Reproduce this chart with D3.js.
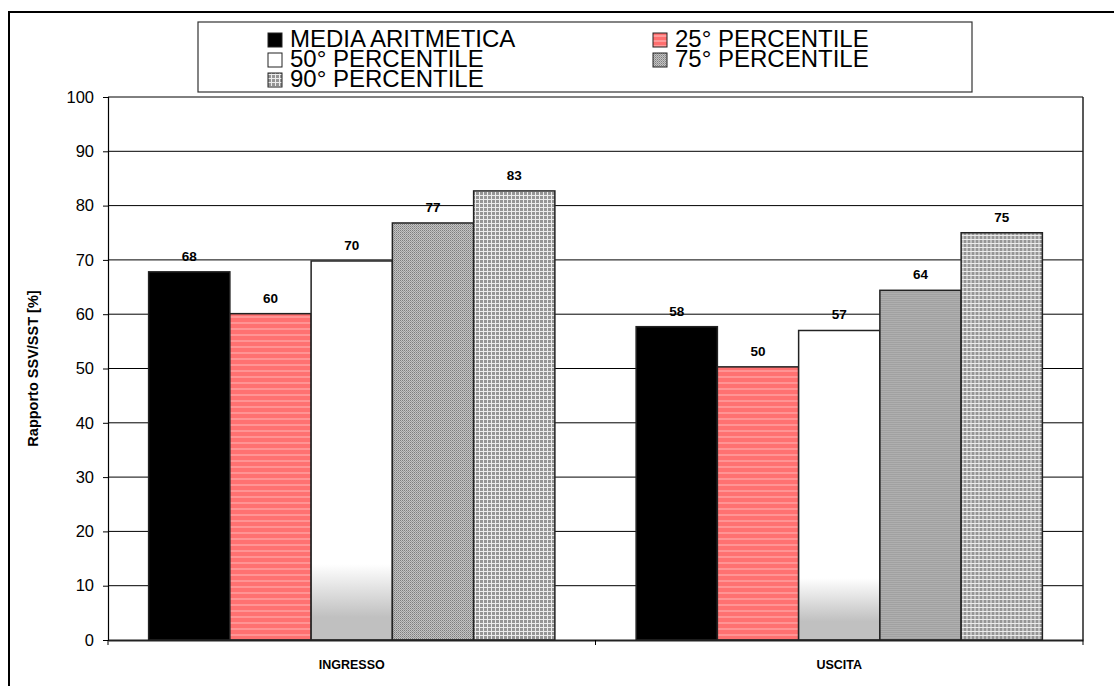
<!DOCTYPE html>
<html>
<head>
<meta charset="utf-8">
<script src="https://cdn.jsdelivr.net/npm/d3@7"></script>
<style>
  html, body { margin: 0; padding: 0; background: #fff; }
  svg { display: block; font-family: "Liberation Sans", Arial, sans-serif; }
</style>
</head>
<body>
<svg id="chart" width="1114" height="686"></svg>
<script>
// ---- data ----
const categories = ["INGRESSO", "USCITA"];
const seriesNames = ["MEDIA ARITMETICA", "25° PERCENTILE", "50° PERCENTILE", "75° PERCENTILE", "90° PERCENTILE"];
const ingressoValues = [67.8, 60.1, 69.8, 76.8, 82.7];
const uscitaValues = [57.7, 50.3, 57.0, 64.4, 75.0];
const yTicks = [0, 10, 20, 30, 40, 50, 60, 70, 80, 90, 100];
const yTitle = "Rapporto SSV/SST [%]";

(function () {
const valuesByCategory = { "INGRESSO": ingressoValues, "USCITA": uscitaValues };
const fills = ["#000000", "url(#pRed)", "url(#gWhite)", "url(#pCheck)", "url(#pGrid)"];
const legendFills = ["#000000", "url(#pRedL)", "#ffffff", "url(#pCheck)", "url(#pGrid)"];

const svg = d3.select("#chart");
const defs = svg.append("defs");

// patterns
const pr = defs.append("pattern").attr("id", "pRed").attr("patternUnits", "userSpaceOnUse")
  .attr("width", 6).attr("height", 6);
pr.append("rect").attr("width", 6).attr("height", 6).attr("fill", "#ff7171");
pr.append("rect").attr("y", 4).attr("width", 6).attr("height", 2).attr("fill", "#ff9494");

const prl = defs.append("pattern").attr("id", "pRedL").attr("patternUnits", "userSpaceOnUse")
  .attr("width", 5).attr("height", 5);
prl.append("rect").attr("width", 5).attr("height", 5).attr("fill", "#ff6f6f");
prl.append("rect").attr("y", 3).attr("width", 5).attr("height", 2).attr("fill", "#ff9a9a");

const pc = defs.append("pattern").attr("id", "pCheck").attr("patternUnits", "userSpaceOnUse")
  .attr("width", 2).attr("height", 2);
pc.append("rect").attr("width", 2).attr("height", 2).attr("fill", "#c4c4c4");
pc.append("rect").attr("width", 1).attr("height", 1).attr("fill", "#7e7e7e");
pc.append("rect").attr("x", 1).attr("y", 1).attr("width", 1).attr("height", 1).attr("fill", "#9a9a9a");

const pg = defs.append("pattern").attr("id", "pGrid").attr("patternUnits", "userSpaceOnUse")
  .attr("width", 4).attr("height", 4);
pg.append("rect").attr("width", 4).attr("height", 4).attr("fill", "#959595");
pg.append("rect").attr("y", 3).attr("width", 4).attr("height", 1).attr("fill", "#ececec");
pg.append("rect").attr("x", 3).attr("width", 1).attr("height", 4).attr("fill", "#ececec");

const gw = defs.append("linearGradient").attr("id", "gWhite")
  .attr("x1", 0).attr("y1", 0).attr("x2", 0).attr("y2", 1);
gw.append("stop").attr("offset", 0).attr("stop-color", "#ffffff");
gw.append("stop").attr("offset", 0.8).attr("stop-color", "#ffffff");
gw.append("stop").attr("offset", 0.94).attr("stop-color", "#c0c0c0");
gw.append("stop").attr("offset", 1).attr("stop-color", "#c0c0c0");

// outer frame (extends beyond right/bottom edges)
svg.append("path").attr("d", "M9,700 L9,12 L1130,12")
  .attr("fill", "none").attr("stroke", "#000").attr("stroke-width", 2);

// scales
const pLeft = 108, pRight = 1083, pTop = 97, pBottom = 640;
const y = d3.scaleLinear().domain([0, 100]).range([pBottom, pTop]);
const x0 = d3.scaleBand().domain(categories).range([pLeft, pRight]).padding(0);
const x1 = d3.scaleBand().domain(seriesNames).range([0, x0.bandwidth()])
  .paddingInner(0).paddingOuter(0.5);

// gridlines
svg.append("g").selectAll("line").data(yTicks.filter(t => t > 0)).join("line")
  .attr("x1", pLeft).attr("x2", pRight)
  .attr("y1", d => y(d)).attr("y2", d => y(d))
  .attr("stroke", "#000").attr("stroke-width", 1);

// right border
svg.append("line").attr("x1", pRight).attr("x2", pRight).attr("y1", pTop).attr("y2", pBottom)
  .attr("stroke", "#222").attr("stroke-width", 1.5);

// bars
const groups = svg.append("g").selectAll("g").data(categories).join("g")
  .attr("transform", d => `translate(${x0(d)},0)`);
groups.selectAll("rect").data(c => valuesByCategory[c].map((v, i) => ({ v, i, s: seriesNames[i] })))
  .join("rect")
  .attr("x", d => x1(d.s)).attr("width", x1.bandwidth())
  .attr("y", d => y(d.v)).attr("height", d => y(0) - y(d.v))
  .attr("fill", d => fills[d.i])
  .attr("stroke", "#222").attr("stroke-width", 1.5);

// value labels
groups.selectAll("text").data(c => valuesByCategory[c].map((v, i) => ({ v, i, s: seriesNames[i] })))
  .join("text")
  .attr("x", d => x1(d.s) + x1.bandwidth() / 2)
  .attr("y", d => y(d.v) - 11)
  .attr("text-anchor", "middle")
  .attr("font-size", 13.5).attr("font-weight", "bold")
  .text(d => d3.format(".0f")(d.v));

// y axis
const yAxis = svg.append("g").attr("transform", `translate(${pLeft},0)`)
  .call(d3.axisLeft(y).tickValues(yTicks).tickSize(5).tickPadding(9));
yAxis.select(".domain").attr("stroke", "#000").attr("stroke-width", 1.2);
yAxis.selectAll(".tick line").attr("stroke", "#000");
yAxis.selectAll(".tick text").attr("font-size", 16.5).attr("fill", "#000")
  .attr("font-family", "'Liberation Sans', Arial, sans-serif");

// x axis
const xAxis = svg.append("g").attr("transform", `translate(0,${pBottom})`)
  .call(d3.axisBottom(x0).tickSize(0).tickPadding(20));
xAxis.select(".domain").attr("stroke", "#222").attr("stroke-width", 2);
xAxis.selectAll(".tick text").attr("font-size", 12.5).attr("font-weight", "bold").attr("fill", "#000")
  .attr("font-family", "'Liberation Sans', Arial, sans-serif");
// category boundary ticks
svg.append("g").selectAll("line").data([pLeft, x0("USCITA"), pRight]).join("line")
  .attr("x1", d => d).attr("x2", d => d).attr("y1", pBottom).attr("y2", pBottom + 5)
  .attr("stroke", "#000").attr("stroke-width", 1);

// y title
svg.append("text")
  .attr("transform", `translate(38,${(pTop + pBottom) / 2}) rotate(-90)`)
  .attr("text-anchor", "middle")
  .attr("font-size", 14.5).attr("font-weight", "bold")
  .text(yTitle);

// legend
const lg = svg.append("g");
lg.append("rect").attr("x", 198).attr("y", 22).attr("width", 774).attr("height", 70)
  .attr("fill", "#fff").attr("stroke", "#333").attr("stroke-width", 1.2);
const colX = [268, 653];
const items = lg.selectAll("g.item").data(seriesNames).join("g").attr("class", "item")
  .attr("transform", (d, i) => `translate(${colX[i % 2]},${47 + Math.floor(i / 2) * 20})`);
items.append("rect").attr("x", 0).attr("y", -14).attr("width", 14).attr("height", 14)
  .attr("fill", (d, i) => legendFills[i]).attr("stroke", "#222").attr("stroke-width", 1);
items.append("text").attr("x", 22).attr("y", 0)
  .attr("font-size", 24).text(d => d);
})();
</script>
</body>
</html>
